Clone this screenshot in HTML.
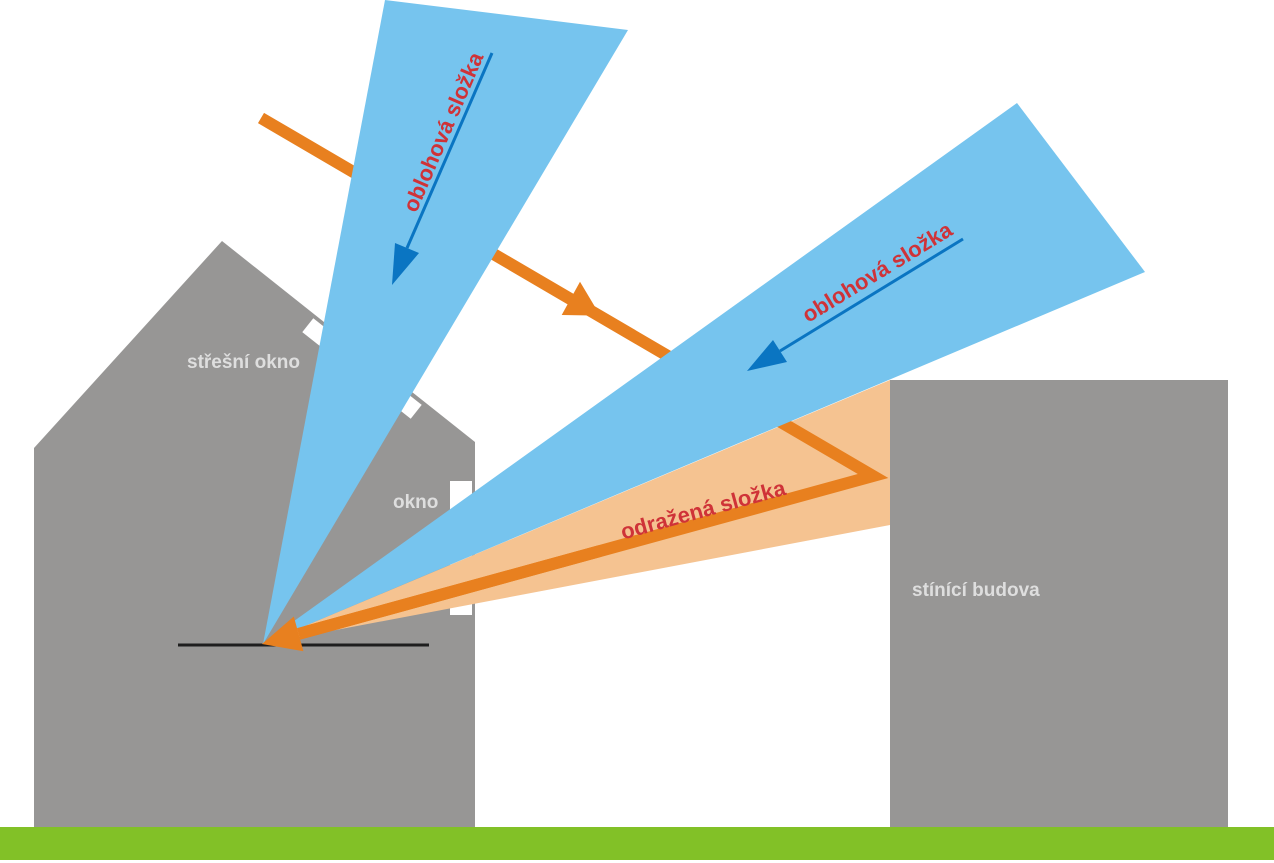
<!DOCTYPE html>
<html>
<head>
<meta charset="utf-8">
<style>
html,body{margin:0;padding:0;background:#fff;}
svg{display:block;}
text{font-family:"Liberation Sans",Arial,sans-serif;font-weight:bold;}
</style>
</head>
<body>
<svg width="1274" height="863" viewBox="0 0 1274 863" xmlns="http://www.w3.org/2000/svg">
  <rect x="0" y="0" width="1274" height="863" fill="#ffffff"/>

  <!-- house -->
  <polygon points="34,448 222,241 475,442 475,828 34,828" fill="#979695"/>
  <!-- roof windows -->
  <rect x="-11" y="-8.85" width="22" height="17.7" fill="#ffffff" transform="translate(316.4,332) rotate(38.46)"/>
  <rect x="-11" y="-8.85" width="22" height="17.7" fill="#ffffff" transform="translate(407.6,405) rotate(38.46)"/>
  <!-- wall window -->
  <rect x="450" y="481" width="22" height="134" fill="#ffffff"/>
  <!-- floor line -->
  <line x1="178" y1="645" x2="429" y2="645" stroke="#1e1e1e" stroke-width="3"/>

  <!-- house labels -->
  <text x="187" y="368" font-size="19" fill="#dedede">střešní okno</text>
  <text x="393" y="508" font-size="19" fill="#dedede">okno</text>

  <!-- reflected light band -->
  <polygon points="262,644 890,380 890,525" fill="#f5c391"/>

  <!-- incoming direct ray + reflected ray (V) -->
  <polyline points="261,118 873,476 298.6,633.9" fill="none" stroke="#e8801f" stroke-width="12" stroke-linejoin="miter" stroke-miterlimit="10" stroke-linecap="butt"/>
  <!-- arrowhead on incoming ray -->
  <polygon points="580,281.7 561.7,315 600.2,315.6" fill="#e8801f"/>

  <!-- sky beams -->
  <polygon points="263,644 385,0 628,30" fill="#76c4ee"/>
  <polygon points="262,644 1017,103 1145,272" fill="#76c4ee"/>

  <!-- reflected ray over beams near the point -->
  <line x1="600" y1="551" x2="298.6" y2="633.9" stroke="#e8801f" stroke-width="12"/>
  <polygon points="262,644 303.4,651.3 293.8,616.5" fill="#e8801f"/>

  <!-- blue arrows -->
  <line x1="492" y1="53" x2="407" y2="248" stroke="#0a75c2" stroke-width="3"/>
  <polygon points="392,285 395,243 419,253" fill="#0a75c2"/>
  <line x1="963" y1="239" x2="780" y2="351" stroke="#0a75c2" stroke-width="3"/>
  <polygon points="747,371 773,340 787,362" fill="#0a75c2"/>

  <!-- red labels -->
  <text font-size="22" fill="#cf3338" text-anchor="middle" transform="translate(450,135) rotate(-66.7)">oblohová složka</text>
  <text font-size="22" fill="#cf3338" text-anchor="middle" transform="translate(881,278.5) rotate(-31.4)">oblohová složka</text>
  <text font-size="22" fill="#cf3338" text-anchor="middle" transform="translate(705,517) rotate(-15.4)">odražená složka</text>

  <!-- shading building -->
  <rect x="890" y="380" width="338" height="448" fill="#979695"/>
  <text x="912" y="596" font-size="19" fill="#dedede">stínící budova</text>

  <!-- ground -->
  <rect x="0" y="827" width="1274" height="33" fill="#82c127"/>
</svg>
</body>
</html>
